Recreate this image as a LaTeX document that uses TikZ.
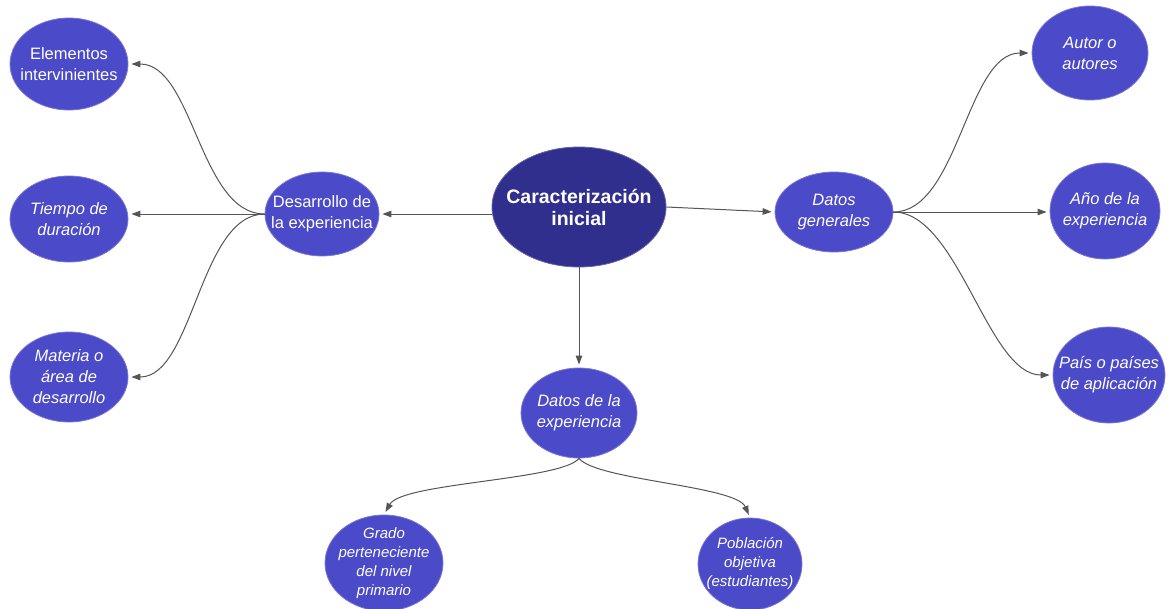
\documentclass[tikz,border=0pt]{standalone}
\usepackage{fontspec}
\setmainfont{Liberation Sans}
\usetikzlibrary{shapes.geometric,arrows.meta}

\definecolor{mainblue}{HTML}{302F8E}
\definecolor{nodeblue}{HTML}{4B4AC8}
\definecolor{linkgray}{HTML}{555555}

\tikzset{
  % fixed-size ellipse; its text is placed on top by a separate node
  bubble/.style={ellipse, fill=nodeblue, draw=nodeblue!75!white, line width=0.8pt,
    inner sep=0pt},
  core/.style={ellipse, fill=mainblue, draw=mainblue!75!white, line width=0.8pt,
    inner sep=0pt},
  caption/.style={text=white, inner sep=0pt, align=center,
    font=\fontsize{16.5}{21}\selectfont\itshape},
  uprightcap/.style={caption, font=\fontsize{16.5}{21}\selectfont},
  smallcap/.style={caption, font=\fontsize{15}{19}\selectfont\itshape},
  corecap/.style={caption, font=\fontsize{19.5}{22}\selectfont\bfseries},
  link/.style={draw=linkgray, line width=1pt,
    -{Triangle[length=9pt,width=6.5pt]}, shorten >=3pt},
}

\begin{document}
\begin{tikzpicture}[x=1pt,y=-1pt]
  \useasboundingbox (0,0) rectangle (1170,608);

  % central concept
  \node[core, minimum width=174pt, minimum height=120pt] (C) at (579,207) {};
  \node[corecap] at (C) {Caracterización\\inicial};

  % left branch
  \node[bubble, minimum width=114pt, minimum height=84pt] (Des) at (322,214) {};
  \node[uprightcap] at (Des) {Desarrollo de\\la experiencia};
  \node[bubble, minimum width=118pt, minimum height=92pt] (Elem) at (69,64) {};
  \node[uprightcap] at (Elem) {Elementos\\intervinientes};
  \node[bubble, minimum width=118pt, minimum height=86pt] (Tiem) at (69,219) {};
  \node[caption] at (Tiem) {Tiempo de\\duración};
  \node[bubble, minimum width=118pt, minimum height=90pt] (Mat) at (69,377) {};
  \node[caption] at (Mat) {Materia o\\área de\\desarrollo};

  % right branch
  \node[bubble, minimum width=118pt, minimum height=80pt] (Dg) at (834,212) {};
  \node[caption] at (Dg) {Datos\\generales};
  \node[bubble, minimum width=116pt, minimum height=94pt] (Aut) at (1090,53) {};
  \node[caption] at (Aut) {Autor o\\autores};
  \node[bubble, minimum width=110pt, minimum height=96pt] (Ano) at (1105,211) {};
  \node[caption] at (Ano) {Año de la\\experiencia};
  \node[bubble, minimum width=112pt, minimum height=96pt] (Pais) at (1109,375) {};
  \node[caption] at (Pais) {País o países\\de aplicación};

  % lower branch
  \node[bubble, minimum width=116pt, minimum height=90pt] (Dexp) at (579,413) {};
  \node[caption] at (Dexp) {Datos de la\\experiencia};
  \node[bubble, minimum width=118pt, minimum height=96pt] (Grado) at (384,563) {};
  \node[smallcap] at (Grado) {Grado\\perteneciente\\del nivel\\primario};
  \node[bubble, minimum width=104pt, minimum height=92pt] (Pob) at (750,564) {};
  \node[smallcap] at (Pob) {Población\\objetiva\\(estudiantes)};

  % connectors from the central concept
  \draw[link] (Des.east -| C.west) -- (Des.east);
  \draw[link] (C.east) -- (Dg.west);
  \draw[link] (C.south) -- (Dexp.north);

  % left fan
  \draw[link] (Des.west) .. controls +(-65,0) and +(65,0) .. (Elem.east);
  \draw[link] (Des.west) -- (Tiem.east |- Des.west);
  \draw[link] (Des.west) .. controls +(-65,0) and +(65,0) .. (Mat.east);

  % right fan
  \draw[link] (Dg.east) .. controls +(65,0) and +(-65,0) .. (Aut.west);
  \draw[link] (Dg.east) -- (Ano.west |- Dg.east);
  \draw[link] (Dg.east) .. controls +(65,0) and +(-65,0) .. (Pais.west);

  % lower fan
  \draw[link] (Dexp.south) .. controls +(-18,22) and +(18,-32) .. (Grado.north);
  \draw[link] (Dexp.south) .. controls +(18,22) and +(-14,-32) .. (Pob.north);
\end{tikzpicture}
\end{document}
